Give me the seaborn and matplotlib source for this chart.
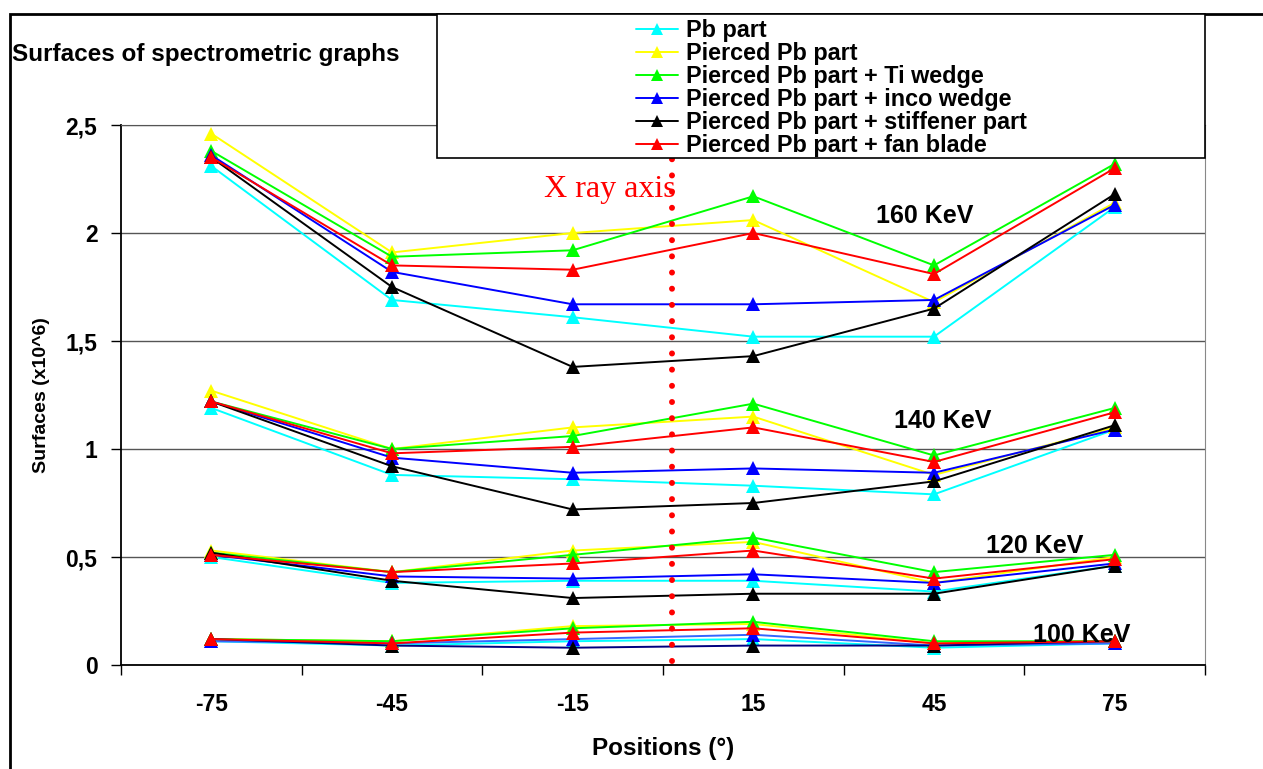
import numpy as np
import pandas as pd
import seaborn as sns
import matplotlib.pyplot as plt
from matplotlib.lines import Line2D
from matplotlib.patches import Rectangle

# Data
positions = ['-75', '-45', '-15', '15', '45', '75']
series = ['Pb part', 'Pierced Pb part', 'Pierced Pb part + Ti wedge',
          'Pierced Pb part + inco wedge', 'Pierced Pb part + stiffener part',
          'Pierced Pb part + fan blade']
colors = ['#00ffff', '#ffff00', '#00ff00', '#0000ff', '#000000', '#ff0000']
energies = ['160 KeV', '140 KeV', '120 KeV', '100 KeV']

kev160 = [
    [2.31, 1.69, 1.61, 1.52, 1.52, 2.12],
    [2.46, 1.91, 2.00, 2.06, 1.68, 2.14],
    [2.38, 1.89, 1.92, 2.17, 1.85, 2.32],
    [2.36, 1.82, 1.67, 1.67, 1.69, 2.13],
    [2.35, 1.75, 1.38, 1.43, 1.65, 2.18],
    [2.35, 1.85, 1.83, 2.00, 1.81, 2.30],
]
kev140 = [
    [1.19, 0.88, 0.86, 0.83, 0.79, 1.09],
    [1.27, 1.00, 1.10, 1.15, 0.88, 1.10],
    [1.22, 1.00, 1.06, 1.21, 0.97, 1.19],
    [1.22, 0.96, 0.89, 0.91, 0.89, 1.09],
    [1.22, 0.92, 0.72, 0.75, 0.85, 1.11],
    [1.22, 0.98, 1.01, 1.10, 0.94, 1.17],
]
kev120 = [
    [0.50, 0.38, 0.39, 0.39, 0.34, 0.46],
    [0.53, 0.43, 0.53, 0.57, 0.38, 0.50],
    [0.52, 0.43, 0.51, 0.59, 0.43, 0.51],
    [0.51, 0.41, 0.40, 0.42, 0.38, 0.47],
    [0.52, 0.39, 0.31, 0.33, 0.33, 0.46],
    [0.51, 0.43, 0.47, 0.53, 0.40, 0.49],
]
kev100 = [
    [0.11, 0.09, 0.11, 0.12, 0.08, 0.10],
    [0.12, 0.11, 0.18, 0.19, 0.10, 0.11],
    [0.12, 0.11, 0.17, 0.20, 0.11, 0.11],
    [0.11, 0.10, 0.12, 0.14, 0.09, 0.10],
    [0.12, 0.09, 0.08, 0.09, 0.09, 0.11],
    [0.12, 0.10, 0.15, 0.17, 0.10, 0.11],
]
groups = [kev160, kev140, kev120, kev100]
label_pos = [(3.95, 2.08), (4.05, 1.13), (4.56, 0.55), (4.82, 0.14)]
yticks = [0, 0.5, 1, 1.5, 2, 2.5]
ytick_labels = ['0', '0,5', '1', '1,5', '2', '2,5']

# long-form table
rows = []
for e, grp in zip(energies, groups):
    for s, vals in zip(series, grp):
        for i, v in enumerate(vals):
            rows.append({'energy': e, 'series': s, 'pos': i, 'value': v})
df = pd.DataFrame(rows)

sns.set_style('white')
plt.rcParams['font.family'] = ['Liberation Sans', 'DejaVu Sans']
plt.rcParams['font.weight'] = 'bold'
for k in ['text.color', 'axes.labelcolor', 'xtick.color', 'ytick.color']:
    plt.rcParams[k] = '#000000'

fig = plt.figure(figsize=(12.63, 7.69), dpi=100)
ax = fig.add_axes([121 / 1263, 1 - 665 / 769, (1205 - 121) / 1263, (665 - 125) / 769])

for e in energies:
    for s, c in zip(series, colors):
        sub = df[(df['energy'] == e) & (df['series'] == s)]
        lc = c
        if e == '100 KeV' and s == series[3]:
            lc = '#3366ff'
        if e == '100 KeV' and s == series[4]:
            lc = '#000080'
        sns.lineplot(data=sub, x='pos', y='value', ax=ax, color=lc, lw=1.4,
                     marker='^', markersize=10, markeredgewidth=0,
                     markerfacecolor=c, legend=False, zorder=3)

ax.set_xlim(-0.5, 5.5)
ax.set_ylim(0, 2.5)
ax.set_xticks(range(len(positions)))
ax.set_xticklabels(positions, fontsize=16.5, fontweight='bold')
ax.set_xticks(np.arange(-0.5, 5.6, 1), minor=True)
ax.tick_params(axis='x', which='both', bottom=True)
ax.tick_params(axis='x', which='major', length=0, pad=20)
ax.tick_params(axis='x', which='minor', length=7, width=1, color='#000000', direction='out')
ax.set_yticks(yticks)
ax.set_yticklabels(ytick_labels, fontsize=16.5, fontweight='bold')
ax.tick_params(axis='y', left=True, length=7, width=1, color='#000000', direction='out', pad=10)
ax.grid(axis='y', color='#555555', lw=1)
ax.grid(axis='x', visible=False)
for side in ['left', 'bottom']:
    ax.spines[side].set_color('#000000')
    ax.spines[side].set_linewidth(1.3)
ax.spines['right'].set_color('#888888')
ax.spines['top'].set_color('#555555')
ax.set_xlabel('Positions (°)', fontsize=17.5, fontweight='bold', labelpad=15)
ax.set_ylabel('Surfaces (x10^6)', fontsize=14, fontweight='bold', labelpad=11)

# energy labels
for e, (xp, yp) in zip(energies, label_pos):
    ax.text(xp, yp, e, fontsize=18, fontweight='bold', ha='center', va='center', zorder=4)

# X ray axis
ax.plot([2.55, 2.55], [0.02, 2.37], color='#ff0000', lw=4.3, ls=(0, (0.01, 2.7)),
        dash_capstyle='round', zorder=5, clip_on=False)
ax.text(2.57, 2.2, 'X ray axis', color='#ff0000', fontsize=23,
        family='Liberation Serif', fontweight='normal', ha='right', va='center', zorder=5)

# title
fig.text(12 / 1263, 1 - 55 / 769, 'Surfaces of spectrometric graphs',
         fontsize=17.5, fontweight='bold', ha='left', va='center')

# outer chart border
fig.patches.append(Rectangle((10 / 1263, -0.1), 1.2, 1 - 14 / 769 + 0.1,
                             transform=fig.transFigure, fill=False,
                             edgecolor='#000000', lw=2))

# legend box
fig.patches.append(Rectangle((437 / 1263, 1 - 158 / 769), (1205 - 437) / 1263, (158 - 14) / 769,
                             transform=fig.transFigure, facecolor='white',
                             edgecolor='#000000', lw=1.2, zorder=10))
handles = [Line2D([], [], color=c, lw=1.4, marker='^', markersize=9, markeredgewidth=0)
           for c in colors]
leg = fig.legend(handles, series, loc='upper left',
                 bbox_to_anchor=(636 / 1263, 1 - 19 / 769), frameon=False,
                 prop={'family': 'Liberation Sans', 'weight': 'bold', 'size': 16.8},
                 handlelength=1.8, handletextpad=0.35, labelspacing=0.0,
                 borderpad=0, borderaxespad=0)
leg.set_zorder(11)

fig.savefig('out.png', dpi=100)
